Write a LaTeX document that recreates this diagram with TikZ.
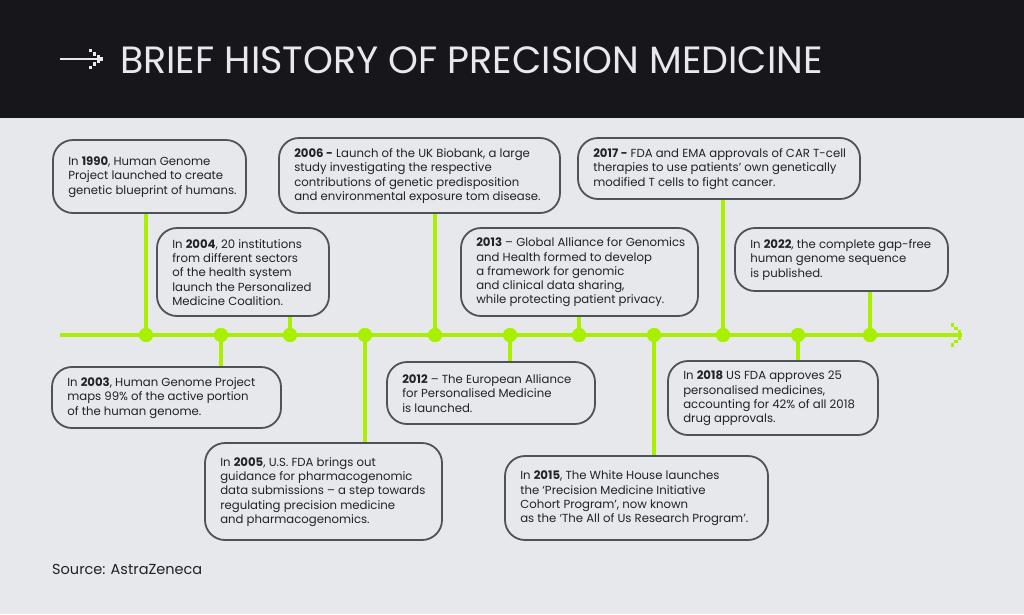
\documentclass[tikz,border=0pt]{standalone}
\usepackage{fontspec}
\setmainfont{Poppins}
\definecolor{hdr}{HTML}{16161B}
\definecolor{ttl}{HTML}{E8E9EE}
\definecolor{bgc}{HTML}{E6E8EC}
\definecolor{lime}{HTML}{A8F000}
\definecolor{brd}{HTML}{4E5259}
\definecolor{txt}{HTML}{222226}
\newcommand\evbox[6]{%
  \pgfmathsetmacro\bw{#4-#2}\pgfmathsetmacro\bh{#5-#3}%
  \node[evt, minimum width=\bw pt, minimum height=\bh pt] (#1) at ({(#2+#4)/2},{(#3+#5)/2}) {};
  \node[evtxt, anchor=west] (#1t) at ([xshift=16pt,yshift=-0.5pt]#1.west) {#6};}
\begin{document}
\begin{tikzpicture}[x=1pt,y=-1pt,
  evt/.style={draw=brd, line width=1.8pt, rounded corners=20pt, fill=bgc, inner sep=0pt},
  evtxt/.style={inner sep=0pt, align=left, font=\fontsize{11.7}{14.3}\selectfont, text=txt},
  dot/.style={circle, fill=lime, minimum size=14pt, inner sep=0pt},
  stem/.style={draw=lime, line width=3.5pt}]
\useasboundingbox (0,0) rectangle (1024,614);
\fill[bgc] (0,0) rectangle (1024,614);
\fill[hdr] (0,0) rectangle (1024,118);
% header arrow
\coordinate (ha0) at (60,59);
\coordinate (ha1) at (100,59);
\draw[ttl, line width=2.2pt] (ha0) -- (ha1);
\foreach \x/\y in {90.5/50.5, 94.5/54, 98.5/57.2, 101.5/59, 98.5/60.8, 94.5/64, 90.5/67.5}
  \fill[ttl] (\x-1.8,\y-1.8) rectangle (\x+1.8,\y+1.8);
\node[anchor=base west, text=ttl, inner sep=0pt, font=\fontsize{38}{40}\selectfont] (title) at (120,73) {BRIEF HISTORY OF PRECISION MEDICINE};
% timeline
\coordinate (tl0) at (60,335);
\coordinate (tl1) at (962,335);
\draw[lime, line width=4pt] (tl0) -- (tl1);
\foreach \x/\y in {952.5/325, 956/328.5, 959.5/332, 959.5/338, 956/341.5, 952.5/345}
  \fill[lime] (\x-1.8,\y-1.8) rectangle (\x+1.8,\y+1.8);
% boxes
\evbox{b1990}{53}{140}{246}{213}{In \textbf{1990}, Human Genome\\Project launched to create\\genetic blueprint of humans.}
\evbox{b2004}{157}{228}{329}{316}{In \textbf{2004}, 20 institutions\\from different sectors\\of the health system\\launch the Personalized\\Medicine Coalition.}
\evbox{b2006}{279}{138}{560}{213}{\textbf{2006 -} Launch of the UK Biobank, a large\\study investigating the respective\\contributions of genetic predisposition\\and environmental exposure tom disease.}
\evbox{b2013}{461}{228}{698}{316}{\textbf{2013} – Global Alliance for Genomics\\and Health formed to develop\\a framework for genomic\\and clinical data sharing,\\while protecting patient privacy.}
\evbox{b2017}{578}{138}{860}{199}{\textbf{2017 -} FDA and EMA approvals of CAR T-cell\\therapies to use patients’ own genetically\\modified T cells to fight cancer.}
\evbox{b2022}{735}{228}{948}{291}{In \textbf{2022}, the complete gap-free\\human genome sequence\\is published.}
\evbox{b2003}{52}{367}{281}{428}{In \textbf{2003}, Human Genome Project\\maps 99\% of the active portion\\of the human genome.}
\evbox{b2005}{205}{443}{442}{540}{In \textbf{2005}, U.S. FDA brings out\\guidance for pharmacogenomic\\data submissions – a step towards\\regulating precision medicine\\and pharmacogenomics.}
\evbox{b2012}{387}{362}{595}{424}{\textbf{2012} – The European Alliance\\for Personalised Medicine\\is launched.}
\evbox{b2015}{505}{456}{768}{540}{In \textbf{2015}, The White House launches\\the ‘Precision Medicine Initiative\\Cohort Program’, now known\\as the ‘The All of Us Research Program’.}
\evbox{b2018}{668}{361}{878}{435}{In \textbf{2018} US FDA approves 25\\personalised medicines,\\accounting for 42\% of all 2018\\drug approvals.}
% dots and stems
\foreach \n/\x in {d1990/146, d2003/221, d2004/290, d2005/365, d2006/435, d2012/510, d2013/579, d2015/654, d2017/723, d2018/798, d2022/870}
  \node[dot] (\n) at (\x,335) {};
\foreach \n/\b/\s in {d1990/b1990/south, d2004/b2004/south, d2006/b2006/south, d2013/b2013/south, d2017/b2017/south, d2022/b2022/south, d2003/b2003/north, d2005/b2005/north, d2012/b2012/north, d2015/b2015/north, d2018/b2018/north}
  \draw[stem] (\n.center) -- (\n.center |- \b.\s);
\foreach \n in {d1990,d2003,d2004,d2005,d2006,d2012,d2013,d2015,d2017,d2018,d2022}
  \fill[lime] (\n) circle (7pt);
\node[anchor=base west, inner sep=0pt, text=txt, font=\fontsize{14.5}{16}\selectfont] (src) at (52,574) {Source: AstraZeneca};
\end{tikzpicture}
\end{document}
